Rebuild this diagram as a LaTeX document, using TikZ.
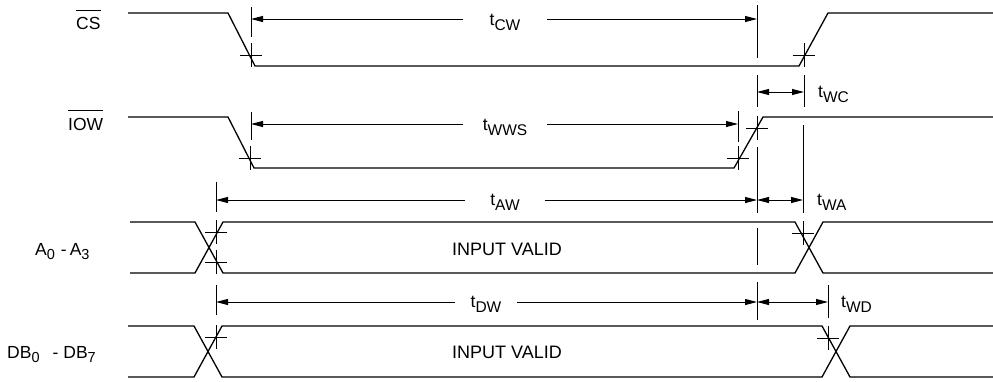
\documentclass[tikz,border=0pt]{standalone}
\usepackage{fontspec}
\setmainfont{Liberation Sans}
\usetikzlibrary{arrows.meta}
\newcommand\tsub[1]{t\raisebox{-5pt}{\fontsize{15.5}{16}\selectfont #1}}
\newcommand\bsub[1]{\raisebox{-4pt}{\fontsize{14.5}{15}\selectfont #1}}
\tikzset{
  wave/.style={line width=1.3pt, line join=miter},
  tickln/.style={line width=1pt},
  dimln/.style={line width=1pt},
  arr/.style={dimln, -{Triangle[length=12pt,width=6pt]}},
  darr/.style={dimln, {Triangle[length=12pt,width=6pt]}-{Triangle[length=12pt,width=6pt]}},
  lbl/.style={font=\fontsize{17.5}{20}\selectfont, inner sep=0pt},
  gapnode/.style={lbl, anchor=base},
  crossmk/.pic={\draw[line width=0.75pt] (-11,0)--(11,0) (0,-12)--(0,12);}
}
\begin{document}
\begin{tikzpicture}[x=1pt,y=-1pt]
\useasboundingbox (0,0) rectangle (993,381);
% signal names
\node[lbl, anchor=base west] (cs) at (76,29) {CS};
\draw[line width=1pt] ([yshift=6pt]cs.north west) -- ([yshift=6pt]cs.north east);
\node[lbl, anchor=base west] (iow) at (68,130) {IOW};
\draw[line width=1pt] ([yshift=7pt]iow.north west) -- ([yshift=7pt]iow.north east);
\node[lbl, anchor=base west] (abus) at (35,255) {A\bsub{0}\hspace{6pt}-\hspace{3pt}A\bsub{3}};
\node[lbl, anchor=base west] (dbus) at (7,358) {DB\bsub{0}\hspace{13pt}-\hspace{5pt}DB\bsub{7}};
% waveforms
\draw[wave] (128,13)--(228,13)--(255,66)--(799,66)--(828,13)--(993,13);
\draw[wave] (128,117)--(228,117)--(254,168)--(734,168)--(763,117)--(993,117);
\draw[wave] (130,222)--(195,222)--(223,273)--(795,273)--(823,222)--(993,222);
\draw[wave] (130,273)--(195,273)--(223,222)--(795,222)--(823,273)--(993,273);
\draw[wave] (128,326)--(194,326)--(222,377)--(822,377)--(850,326)--(993,326);
\draw[wave] (128,377)--(194,377)--(222,326)--(822,326)--(850,377)--(993,377);
\node[font=\fontsize{18}{20}\selectfont, inner sep=0pt, anchor=base west] (va) at (452,255) {INPUT VALID};
\node[font=\fontsize{18}{20}\selectfont, inner sep=0pt, anchor=base west] (vd) at (452,358) {INPUT VALID};
% tick lines
\draw[tickln] (251,7)--(251,37);
\draw[tickln] (757,5)--(757,58);
\draw[tickln] (757,75)--(757,107);
\draw[tickln] (804,75)--(804,107);
\draw[tickln] (251,112)--(251,140);
\draw[tickln] (738,111)--(738,142);
\draw[tickln] (216,182)--(216,212);
\draw[tickln] (757,147)--(757,213);
\draw[tickln] (803,125)--(803,213);
\draw[tickln] (757,228)--(757,265);
\draw[tickln] (216,285)--(216,315);
\draw[tickln] (757,282)--(757,320);
\draw[tickln] (828,285)--(828,318);
% crossing markers
\foreach \p in {(251,55),(804,55),(250,158),(738,158),(757,128),(216,232),(216,262),(803,233),(216,337),(828,338)}
  \pic at \p {crossmk};
% dimension end points
\coordinate (cwL) at (251,19);  \coordinate (cwR) at (757,19);
\coordinate (wwsL) at (251,124); \coordinate (wwsR) at (738,124);
\coordinate (awL) at (216,200); \coordinate (awR) at (757,200);
\coordinate (dwL) at (216,302); \coordinate (dwR) at (757,302);
\coordinate (wcL) at (757,92);  \coordinate (wcR) at (804,92);
\coordinate (waL) at (757,200); \coordinate (waR) at (803,200);
\coordinate (wdL) at (757,302); \coordinate (wdR) at (828,302);
% long dimensions with labels in the gap
\node[gapnode, minimum width=84pt] (lcw) at (505,25) {\tsub{CW}};
\draw[arr] (lcw.west |- cwL) -- (cwL);
\draw[arr] (lcw.east |- cwR) -- (cwR);
\node[gapnode, minimum width=84pt] (lwws) at (505,130) {\tsub{WWS}};
\draw[arr] (lwws.west |- wwsL) -- (wwsL);
\draw[arr] (lwws.east |- wwsR) -- (wwsR);
\node[gapnode, minimum width=80pt] (law) at (505,205) {\tsub{AW}};
\draw[arr] (law.west |- awL) -- (awL);
\draw[arr] (law.east |- awR) -- (awR);
\node[gapnode, minimum width=62pt] (ldw) at (486,307) {\tsub{DW}};
\draw[arr] (ldw.west |- dwL) -- (dwL);
\draw[arr] (ldw.east |- dwR) -- (dwR);
% short dimensions
\draw[darr] (wcL) -- (wcR);
\node[lbl, anchor=base west] (lwc) at (818,97) {\tsub{WC}};
\draw[darr] (waL) -- (waR);
\node[lbl, anchor=base west] (lwa) at (817,205) {\tsub{WA}};
\draw[darr] (wdL) -- (wdR);
\node[lbl, anchor=base west] (lwd) at (841,307) {\tsub{WD}};
\end{tikzpicture}
\end{document}
